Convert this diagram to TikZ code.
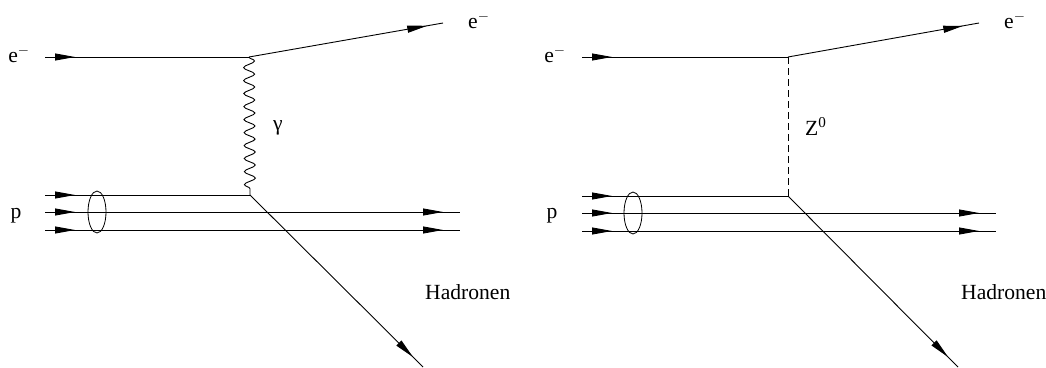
\documentclass[tikz,border=0pt]{standalone}
\usepackage{fontspec}
\setmainfont{Liberation Serif}
\usepackage{tikz}
\usetikzlibrary{arrows.meta,shapes.geometric,decorations.markings,decorations.pathmorphing}

\begin{document}
\begin{tikzpicture}[
  x=1pt, y=-1pt,
  font=\rmfamily\fontsize{21.6}{26}\selectfont,
  line/.style={line width=0.9pt},
  fermin/.style={line, postaction={decorate, decoration={markings, mark=at position 30pt with {\arrow{Triangle[length=20pt,width=7pt]}}}}},
  fermout/.style={line, postaction={decorate, decoration={markings, mark=at position -#1 with {\arrow{Triangle[length=20pt,width=7pt]}}}}},
  photon/.style={line, decorate, decoration={snake, amplitude=5.5pt, segment length=13pt}},
  zboson/.style={line, dash pattern=on 7pt off 4pt},
  ring/.style={draw, ellipse, line width=0.8pt, minimum width=18pt, minimum height=42pt, inner sep=0pt},
  lab/.style={inner sep=0pt}
]
  \useasboundingbox (0,0) rectangle (1046,367);
  % photon exchange
  \coordinate (inL) at (45,57);
  \coordinate (vaL) at (249,57);
  \coordinate (outL) at (443,23);
  \coordinate (vbL) at (250,195);
  \coordinate (hadL) at (423,367);
  \coordinate (paL) at (45,195);
  \coordinate (pbL) at (45,212);
  \coordinate (pcL) at (45,230);
  \coordinate (qbL) at (460,212);
  \coordinate (qcL) at (460,230);
  \node[lab, anchor=base] (eaL) at (19,62) {e$^-$};
  \node[lab, anchor=base west] (ebL) at (468,28) {e$^-$};
  \node[lab, anchor=base] (pL) at (16,218) {p};
  \node[lab, anchor=base] (gL) at (278,130) {γ};
  \node[lab, anchor=base west] (hL) at (425,299) {Hadronen};
  \node[ring] (ringL) at (97,212) {};
  \draw[fermin] (inL) -- (vaL);
  \draw[fermout=16pt] (vaL) -- (outL);
  \draw[photon] (vaL) -- (vbL);
  \draw[fermin] (paL) -- (vbL);
  \draw[fermin] (pbL) -- (qbL);
  \draw[fermin] (pcL) -- (qcL);
  \draw[fermout=17pt] (pbL) -- (qbL);
  \draw[fermout=17pt] (pcL) -- (qcL);
  \draw[fermout=14pt] (vbL) -- (hadL);
  % Z exchange
  \coordinate (inR) at (582,57);
  \coordinate (vaR) at (788,57);
  \coordinate (outR) at (979,23);
  \coordinate (vbR) at (788,196);
  \coordinate (hadR) at (958,367);
  \coordinate (paR) at (582,196);
  \coordinate (pbR) at (582,213);
  \coordinate (pcR) at (582,231);
  \coordinate (qbR) at (996,213);
  \coordinate (qcR) at (996,231);
  \node[lab, anchor=base] (eaR) at (555,62) {e$^-$};
  \node[lab, anchor=base west] (ebR) at (1004,28) {e$^-$};
  \node[lab, anchor=base] (pR) at (552,218) {p};
  \node[lab, anchor=base west] (zR) at (805,135) {Z\textsuperscript{0}};
  \node[lab, anchor=base west] (hR) at (961,299) {Hadronen};
  \node[ring] (ringR) at (633,213) {};
  \draw[fermin] (inR) -- (vaR);
  \draw[fermout=16pt] (vaR) -- (outR);
  \draw[zboson] (vaR) -- (vbR);
  \draw[fermin] (paR) -- (vbR);
  \draw[fermin] (pbR) -- (qbR);
  \draw[fermin] (pcR) -- (qcR);
  \draw[fermout=17pt] (pbR) -- (qbR);
  \draw[fermout=17pt] (pcR) -- (qcR);
  \draw[fermout=14pt] (vbR) -- (hadR);
\end{tikzpicture}
\end{document}
